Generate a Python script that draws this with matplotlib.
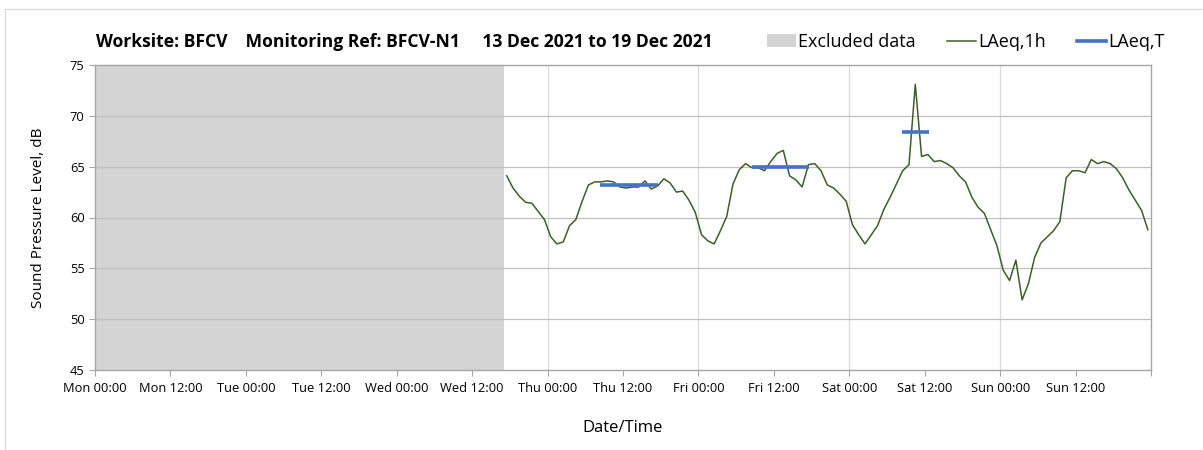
import matplotlib
matplotlib.use("Agg")
import matplotlib.pyplot as plt
from matplotlib.patches import Patch, Rectangle
from matplotlib.lines import Line2D

plt.rcParams['font.family'] = ['Open Sans', 'DejaVu Sans']

# ---- data ----
tick_hours = [0, 12, 24, 36, 48, 60, 72, 84, 96, 108, 120, 132, 144, 156]
tick_labels = ['Mon 00:00', 'Mon 12:00', 'Tue 00:00', 'Tue 12:00', 'Wed 00:00', 'Wed 12:00',
               'Thu 00:00', 'Thu 12:00', 'Fri 00:00', 'Fri 12:00', 'Sat 00:00', 'Sat 12:00',
               'Sun 00:00', 'Sun 12:00']
excluded_start = 0
excluded_end = 65

hourly_start = 65.5
laeq_1h = [64.1, 62.9, 62.1, 61.5, 61.4, 60.6, 59.8, 58.1, 57.4, 57.6,
           59.2, 59.8, 61.6, 63.2, 63.5, 63.5, 63.6, 63.5, 63.0, 62.9,
           63.0, 63.0, 63.6, 62.8, 63.1, 63.8, 63.4, 62.5, 62.6, 61.7,
           60.5, 58.3, 57.7, 57.4, 58.7, 60.1, 63.3, 64.7, 65.3, 64.9,
           64.9, 64.6, 65.5, 66.3, 66.6, 64.1, 63.7, 63.0, 65.2, 65.3,
           64.6, 63.2, 62.9, 62.3, 61.6, 59.3, 58.3, 57.4, 58.3, 59.2,
           60.8, 62.0, 63.3, 64.6, 65.2, 73.1, 66.0, 66.2, 65.5, 65.6,
           65.3, 64.9, 64.1, 63.5, 62.0, 61.0, 60.4, 58.8, 57.2, 54.8,
           53.8, 55.8, 51.9, 53.5, 56.1, 57.5, 58.1, 58.7, 59.6, 63.9,
           64.6, 64.6, 64.4, 65.7, 65.3, 65.5, 65.3, 64.8, 63.9, 62.7,
           61.7, 60.7, 58.8]
hours = [hourly_start + i for i in range(len(laeq_1h))]

laeq_t_start = [80.4, 104.5, 128.4]
laeq_t_end = [89.6, 113.6, 132.7]
laeq_t_value = [63.2, 65.0, 68.4]

title_text = 'Worksite: BFCV    Monitoring Ref: BFCV-N1     13 Dec 2021 to 19 Dec 2021'

# ---- figure ----
fig = plt.figure(figsize=(12.03, 4.5), dpi=100)
fig.patches.append(Rectangle((5 / 1203, -0.1), 1.2, 0.1 + 1 - 9 / 450,
                             transform=fig.transFigure, fill=False,
                             edgecolor='#d9d9d9', linewidth=0.8))
ax = fig.add_axes([95 / 1203, 1 - 370 / 450, (1151 - 95) / 1203, (370 - 65) / 450])

ax.axvspan(excluded_start, excluded_end, color='#d4d4d4', lw=0, zorder=1)
ax.plot(hours, laeq_1h, color='#3d5f27', lw=1.1, zorder=3)
for s, e, v in zip(laeq_t_start, laeq_t_end, laeq_t_value):
    ax.plot([s, e], [v, v], color='#4472c4', lw=2.6, solid_capstyle='butt', zorder=4)

ax.set_xlim(0, 168)
ax.set_ylim(45, 75)
ax.set_yticks(range(45, 80, 5))
ax.set_xticks(tick_hours + [168])
ax.set_xticklabels(tick_labels + [''])
ax.tick_params(axis='both', labelsize=9.3, colors='#a6a6a6', labelcolor='#000000',
               length=4, width=0.8, direction='out')
ax.tick_params(axis='x', pad=5)

for y in range(50, 75, 5):
    ax.axhline(y, color='#c0c0c0', lw=0.9, zorder=2)
for d in range(24, 168, 24):
    ax.axvline(d, color='#d9d9d9', lw=0.9, zorder=0.5)

for sp in ax.spines.values():
    sp.set_color('#a6a6a6')
    sp.set_linewidth(1.0)
    sp.set_zorder(5)

ax.set_ylabel('Sound Pressure Level, dB', fontsize=11, labelpad=17)
ax.set_xlabel('Date/Time', fontsize=12, labelpad=18)

fig.text(96 / 1203, 1 - 42 / 450, title_text,
         fontsize=12.6, fontweight='bold', va='center', ha='left')

handles = [Patch(facecolor='#d4d4d4', edgecolor='none'),
           Line2D([0], [0], color='#3d5f27', lw=1.1),
           Line2D([0], [0], color='#4472c4', lw=2.6)]
fig.legend(handles, ['Excluded data', 'LAeq,1h', 'LAeq,T'], ncol=3,
           loc='center right', bbox_to_anchor=(1172 / 1203, 1 - 42 / 450),
           frameon=False, fontsize=13, handlelength=1.6, handletextpad=0.15,
           columnspacing=1.7, borderaxespad=0)

fig.savefig('out.png', dpi=100)
